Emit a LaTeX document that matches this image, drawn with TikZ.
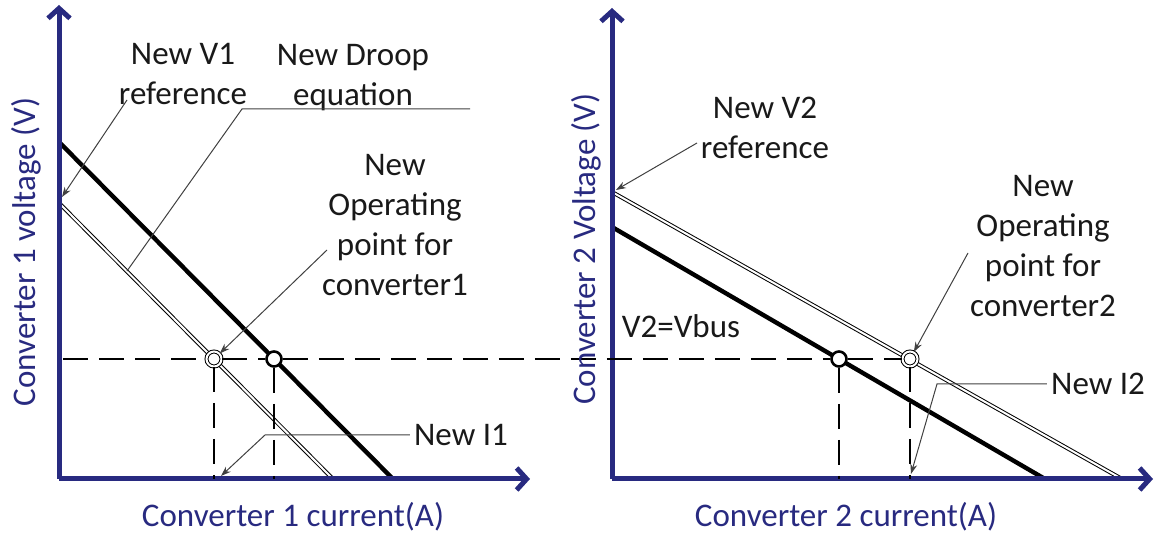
\documentclass[tikz,border=0pt]{standalone}
\usepackage{fontspec}
\setmainfont{Carlito}
\usepackage{tikz}
\usetikzlibrary{arrows.meta}
\usetikzlibrary{calc}
\definecolor{ejecolor}{RGB}{40,42,128}
\definecolor{textocolor}{RGB}{25,25,25}

\begin{document}
\begin{tikzpicture}[
        x=0.5pt, y=-0.5pt, % 1 unidad = 1 pixel de la figura
        font=\fontsize{16.5}{20}\selectfont, % Fuente de las etiquetas
        axis/.style={-{Straight Barb[length=5pt, width=11pt]}, line width=2.5pt, ejecolor}, % Estilo para los ejes
        droop/.style={line width=2.2pt}, % Recta de droop original
        newdroop/.style={double, double distance=1pt, line width=0.5pt}, % Nueva recta de droop
        helpline/.style={dash pattern=on 12.5pt off 5.5pt, line width=1.4pt}, % Lineas de ayuda
        pointer/.style={-{Stealth[length=5pt, width=3.5pt]}, line width=0.5pt, black!75}, % Flechas de las etiquetas
        leader/.style={line width=0.5pt, black!75},
        tag/.style={text=textocolor, align=center, inner sep=2pt},
        axislabel/.style={text=ejecolor},
        oppoint/.style={circle, draw, fill=white, line width=1.3pt, minimum size=7.5pt, inner sep=0pt},
        newpoint/.style={circle, draw, fill=white, double, double distance=1pt, line width=0.5pt, minimum size=7.5pt, inner sep=0pt}
    ]
        \useasboundingbox (0,0) rectangle (1158,533);

        % --- Convertidor 1: rectas de droop ---
        \coordinate (d1a) at (59,142);
        \coordinate (d1b) at (393,479);
        \coordinate (n1a) at (59,203);
        \coordinate (n1b) at (333,479);
        \draw[droop] (d1a) -- (d1b);
        \draw[newdroop] (n1a) -- (n1b);

        % --- Convertidor 2: rectas de droop ---
        \coordinate (d2a) at (612,227);
        \coordinate (d2b) at (1045,479);
        \coordinate (n2a) at (612,192);
        \coordinate (n2b) at (1122,479);
        \draw[droop] (d2a) -- (d2b);
        \draw[newdroop] (n2a) -- (n2b);

        % --- Ejes ---
        \coordinate (O1) at (59,479);
        \coordinate (O2) at (612,479);
        \draw[axis] (O1) -- (59,5);
        \draw[axis] (O1) -- (530,479);
        \draw[axis] (O2) -- (612,8);
        \draw[axis] (O2) -- (1153,479);

        % --- Puntos de operacion ---
        \node[newpoint] (p1new) at (214,359) {};
        \node[oppoint] (p1old) at (274,359) {};
        \node[oppoint] (p2old) at (839,359) {};
        \node[newpoint] (p2new) at (910,359) {};

        % --- Lineas de ayuda (Vbus y corrientes) ---
        \coordinate (vbus) at (63,359);
        \draw[helpline] (vbus) -- (p1new);
        \draw[helpline] (p1new) -- (p1old);
        \draw[helpline] (p1old) -- (p2old);
        \draw[helpline] (p2old) -- (p2new);
        \draw[helpline] (p1new) -- (p1new |- O1);
        \draw[helpline] (p1old) -- (p1old |- O1);
        \draw[helpline] (p2old) -- (p2old |- O2);
        \draw[helpline] (p2new) -- (p2new |- O2);

        % --- Etiquetas ---
        \node[tag] (v1ref) at (183,74) {New V1\\reference};
        \node[tag] (droopeq) at (353,78) {New Droop\\equation};
        \node[tag] (op1lbl) at (395,225) {New\\Operating\\point for\\converter1};
        \node[tag] (i1lbl) at (461,435) {New I1};
        \node[tag] (v2ref) at (765,128) {New V2\\reference};
        \node[tag] (op2lbl) at (1043,246) {New\\Operating\\point for\\converter2};
        \node[tag] (vbuslbl) at (681,326) {V2=Vbus};
        \node[tag] (i2lbl) at (1098,384) {New I2};

        \node[axislabel] (xlab1) at (293,517) {Converter 1 current(A)};
        \node[axislabel] (xlab2) at (846,517) {Converter 2 current(A)};
        \node[axislabel, rotate=90] (ylab1) at (26,252) {Converter 1 voltage (V)};
        \node[axislabel, rotate=90] (ylab2) at (586,249) {Converter 2 Voltage (V)};

        % --- Flechas de las etiquetas ---
        \coordinate (v1tail) at (127,100);
        \coordinate (v1tip) at (62,197);
        \draw[pointer] (v1tail) -- (v1tip);

        \coordinate (eqend) at (470,109);
        \coordinate (eqknee) at (242,109);
        \coordinate (eqtip) at (127,271);
        \draw[leader] (eqend) -- (eqknee) -- (eqtip);

        \coordinate (op1tail) at (327,250);
        \draw[pointer] (op1tail) -- (p1new);

        \coordinate (i1knee) at (265,435);
        \coordinate (i1tip) at (221,476);
        \draw[pointer] (i1lbl.west) -- (i1knee) -- (i1tip);

        \coordinate (v2tail) at (697,143);
        \coordinate (v2tip) at (616,190);
        \draw[pointer] (v2tail) -- (v2tip);

        \coordinate (op2tail) at (968,253);
        \draw[pointer] (op2tail) -- (p2new);

        \coordinate (i2knee) at (937,384);
        \coordinate (i2tip) at (911,474);
        \draw[pointer] (i2lbl.west) -- (i2knee) -- (i2tip);

    \end{tikzpicture}
\end{document}
